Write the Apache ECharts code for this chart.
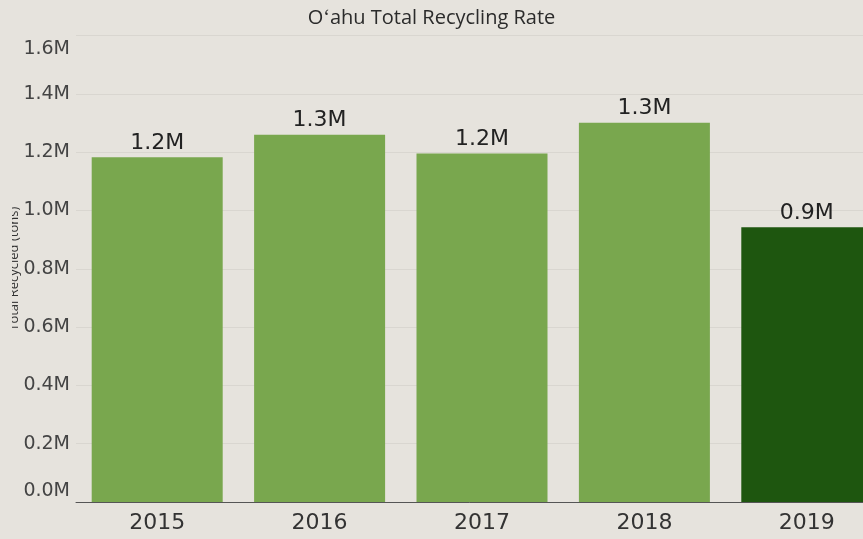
<!DOCTYPE html>
<html>
<head>
<meta charset="utf-8">
<script src="https://cdn.jsdelivr.net/npm/echarts@6/dist/echarts.min.js"></script>
<style>
  html, body { margin: 0; padding: 0; background: #e6e3dd; }
  #main { width: 863px; height: 539px; }
</style>
</head>
<body>
<div id="main"></div>
<script>
// data (tons)
const years = ['2015', '2016', '2017', '2018', '2019'];
const recycled = [1182000, 1260000, 1195000, 1301000, 942000];
const barColors = ['#79a74e', '#79a74e', '#79a74e', '#79a74e', '#1e560f'];
const yTicks = [0, 200000, 400000, 600000, 800000, 1000000, 1200000, 1400000, 1600000];

const fmtM = v => (v / 1000000).toFixed(1) + 'M';
const numFont = 'DejaVu Sans';
const bg = '#e6e3dd';

const chart = echarts.init(document.getElementById('main'));
chart.setOption({
  backgroundColor: bg,
  animation: false,
  title: {
    text: 'O\u02bbahu Total Recycling Rate',
    left: 'center',
    top: 3,
    textStyle: { fontFamily: 'Open Sans', fontSize: 20, fontWeight: 500, color: '#2b2b2b' }
  },
  // the axis title is cut off on its left side in the original
  graphic: [{
    type: 'rect',
    z: 100,
    shape: { x: 0, y: 150, width: 12, height: 240 },
    style: { fill: bg }
  }],
  grid: { left: 76, top: 35.5, width: 812, height: 466.5, containLabel: false, outerBoundsMode: 'none' },
  xAxis: {
    type: 'category',
    data: years,
    axisLine: { lineStyle: { color: '#555', width: 1 } },
    axisTick: { show: false },
    axisLabel: { fontFamily: numFont, fontSize: 22, color: '#333', margin: 10 }
  },
  yAxis: {
    type: 'value',
    min: yTicks[0],
    max: yTicks[yTicks.length - 1],
    interval: 200000,
    name: 'Total Recycled (tons)',
    nameLocation: 'middle',
    nameGap: 55,
    nameMoveOverlap: false,
    nameTextStyle: { fontFamily: 'Open Sans', fontSize: 13, color: '#333' },
    axisLine: { show: false },
    axisTick: { show: false },
    splitLine: { lineStyle: { color: '#d9d6d0', width: 1 } },
    axisLabel: {
      fontFamily: numFont, fontSize: 19, color: '#444', margin: 6,
      formatter: v => {
        if (v === yTicks[yTicks.length - 1]) return '{top|' + fmtM(v) + '}';
        if (v === 0) return '{bot|' + fmtM(v) + '}';
        return fmtM(v);
      },
      rich: {
        top: { fontFamily: numFont, fontSize: 19, color: '#444', padding: [28, 0, 0, 0] },
        bot: { fontFamily: numFont, fontSize: 19, color: '#444', padding: [0, 0, 22, 0] }
      }
    }
  },
  series: [{
    type: 'bar',
    barWidth: 131,
    data: recycled.map((v, i) => ({ value: v, itemStyle: { color: barColors[i] } })),
    label: {
      show: true,
      position: 'top',
      distance: 3,
      formatter: p => fmtM(p.value),
      fontFamily: numFont, fontSize: 22, color: '#222'
    }
  }]
});
</script>
</body>
</html>
